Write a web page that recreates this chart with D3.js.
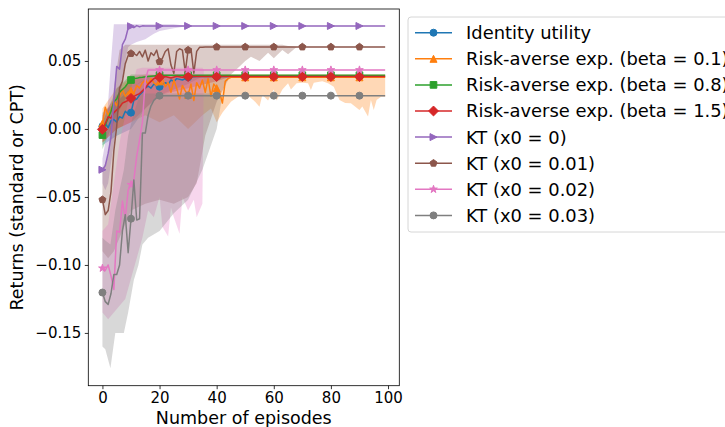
<!DOCTYPE html>
<html><head><meta charset="utf-8">
<script src="https://cdn.jsdelivr.net/npm/d3@7"></script>
<style>body{margin:0;background:#fff}svg{display:block;font-family:"DejaVu Sans",sans-serif}</style>
</head><body><div id="chart"></div>
<script>
// ---------------- data ----------------
const seriesNames = ["Identity utility","Risk-averse exp. (beta = 0.1)","Risk-averse exp. (beta = 0.8)","Risk-averse exp. (beta = 1.5)","KT (x0 = 0)","KT (x0 = 0.01)","KT (x0 = 0.02)","KT (x0 = 0.03)"];
const seriesColors = ["#1f77b4","#ff7f0e","#2ca02c","#d62728","#9467bd","#8c564b","#e377c2","#7f7f7f"];
const seriesMarkers = ["circle","triUp","square","diamond","triRight","pentagon","star","circle"];
const xTicks = [0,20,40,60,80,100];
const yTicks = [-0.15,-0.10,-0.05,0.00,0.05];

// mean returns, [episode, value]
const identityLine = [[0,0.002],[1,0.004],[2,0.001],[3,0.006],[4,0.007],[5,0.005],[6,0.009],[7,0.008],[8,0.013],[9,0.011],[10,0.012],[11,0.021],[12,0.022],[13,0.025],[14,0.027],[15,0.030],[16,0.0315],[17,0.030],[18,0.033],[19,0.032],[20,0.031],[21,0.033],[22,0.034],[23,0.033],[24,0.036],[25,0.035],[26,0.037],[28,0.036],[30,0.038],[33,0.0385],[40,0.0385],[50,0.0385],[60,0.0385],[70,0.0385],[80,0.0385],[90,0.0385],[99,0.0385]];
const beta01Line = [[0,0.004],[1,0.016],[2,0.010],[3,0.014],[4,0.021],[5,0.017],[6,0.024],[7,0.029],[8,0.024],[9,0.027],[10,0.028],[11,0.026],[12,0.032],[13,0.030],[14,0.034],[15,0.036],[16,0.033],[17,0.037],[18,0.034],[19,0.032],[20,0.035],[21,0.037],[22,0.031],[23,0.034],[24,0.027],[25,0.036],[26,0.030],[27,0.022],[28,0.032],[29,0.028],[30,0.025],[31,0.033],[32,0.021],[33,0.034],[34,0.030],[35,0.036],[36,0.027],[37,0.037],[38,0.024],[39,0.033],[40,0.030],[41,0.027],[42,0.019],[43,0.035],[44,0.037],[45,0.038],[50,0.038],[60,0.038],[70,0.038],[80,0.038],[90,0.038],[99,0.038]];
const beta08Line = [[0,-0.0045],[1,0.003],[2,0.008],[3,0.013],[4,0.020],[5,0.022],[6,0.027],[7,0.029],[8,0.031],[9,0.034],[10,0.036],[11,0.037],[12,0.0372],[13,0.0378],[14,0.038],[16,0.0385],[18,0.039],[20,0.0395],[30,0.0395],[40,0.0395],[50,0.0395],[60,0.0395],[70,0.0395],[80,0.0395],[90,0.0395],[99,0.0395]];
const beta15Line = [[0,-0.0003],[1,0.004],[2,0.009],[3,0.008],[4,0.012],[5,0.014],[6,0.016],[7,0.019],[8,0.020],[9,0.021],[10,0.0225],[11,0.024],[12,0.025],[13,0.026],[14,0.028],[15,0.030],[16,0.033],[17,0.035],[18,0.037],[19,0.0375],[20,0.038],[22,0.0385],[24,0.0375],[26,0.0388],[28,0.038],[30,0.0385],[40,0.0385],[50,0.0385],[60,0.0385],[70,0.0385],[80,0.0385],[90,0.0385],[99,0.0385]];
const kt0Line = [[0,-0.030],[1,-0.027],[2,-0.018],[3,-0.006],[4,0.021],[5,0.046],[6,0.044],[7,0.062],[8,0.066],[9,0.074],[10,0.0755],[11,0.0745],[12,0.076],[13,0.0752],[14,0.0758],[15,0.0757],[20,0.0757],[30,0.0757],[40,0.0757],[50,0.0757],[60,0.0757],[70,0.0757],[80,0.0757],[90,0.0757],[99,0.0757]];
const kt001Line = [[0,-0.052],[1,-0.063],[2,-0.060],[3,-0.046],[4,-0.016],[5,0.002],[6,0.030],[7,0.035],[8,0.048],[9,0.054],[10,0.0555],[11,0.0555],[12,0.054],[13,0.057],[14,0.053],[15,0.058],[16,0.050],[17,0.056],[18,0.054],[19,0.058],[20,0.0495],[21,0.052],[22,0.057],[23,0.059],[24,0.047],[25,0.041],[26,0.057],[27,0.059],[28,0.058],[29,0.042],[30,0.058],[31,0.059],[32,0.041],[33,0.057],[34,0.060],[35,0.060],[36,0.0603],[40,0.0603],[50,0.0603],[60,0.0603],[70,0.0603],[80,0.0603],[90,0.0603],[99,0.0603]];
const kt002Line = [[0,-0.1024],[1,-0.104],[2,-0.100],[3,-0.108],[4,-0.118],[5,-0.075],[6,-0.076],[7,-0.053],[8,-0.066],[9,-0.045],[10,-0.041],[11,-0.0375],[12,-0.020],[13,-0.008],[14,0.005],[15,0.036],[16,0.0434],[20,0.0434],[30,0.0434],[40,0.0434],[50,0.0434],[60,0.0434],[70,0.0434],[80,0.0434],[90,0.0434],[99,0.0434]];
const kt003Line = [[0,-0.1203],[1,-0.127],[2,-0.129],[3,-0.121],[4,-0.107],[5,-0.107],[6,-0.100],[7,-0.075],[8,-0.063],[9,-0.091],[10,-0.066],[11,-0.0375],[12,-0.067],[13,-0.066],[14,-0.003],[15,-0.003],[16,0.010],[17,0.017],[18,0.021],[19,0.023],[20,0.0245],[30,0.0245],[40,0.0245],[50,0.0245],[60,0.0245],[70,0.0245],[80,0.0245],[90,0.0245],[99,0.0245]];

// spread bands, [episode, low, high]
const identityBand = [[0,-0.012,0.012],[5,-0.005,0.020],[10,0.000,0.030],[15,0.015,0.037],[20,0.025,0.038],[30,0.033,0.039],[35,0.0385,0.0385]];
const beta01Band = [[0,-0.010,0.015],[5,0.000,0.030],[10,0.005,0.038],[15,0.010,0.040],[20,0.005,0.040],[25,0.010,0.040],[30,0.000,0.040],[35,0.010,0.040],[38,0.015,0.040],[40,0.005,0.040],[42,0.012,0.040],[45,0.020,0.040],[48,0.0245,0.040],[51,0.0245,0.040],[53,0.021,0.040],[55,0.0164,0.040],[56,0.025,0.040],[58,0.021,0.040],[60,0.029,0.040],[61,0.021,0.040],[63,0.029,0.040],[65,0.0336,0.040],[66,0.029,0.040],[68,0.0336,0.040],[70,0.034,0.040],[72,0.0336,0.040],[73,0.0287,0.040],[74,0.034,0.040],[77,0.035,0.040],[79,0.0336,0.040],[81,0.031,0.040],[83,0.0213,0.040],[85,0.019,0.040],[87,0.0189,0.040],[90,0.014,0.040],[91,0.0165,0.040],[93,0.0091,0.040],[94,0.0213,0.040],[95,0.014,0.040],[96,0.0213,0.040],[97.6,0.0237,0.040],[99,0.0237,0.040]];
const beta08Band = [[0,-0.015,0.005],[5,0.010,0.030],[10,0.030,0.040],[15,0.036,0.040],[20,0.0395,0.0395]];
const beta15Band = [[0,-0.010,0.010],[5,0.000,0.025],[10,0.005,0.035],[15,0.015,0.039],[20,0.025,0.040],[30,0.030,0.040],[40,0.035,0.039],[45,0.0385,0.0385]];
const kt0Band = [[0,-0.040,-0.022],[1,-0.045,-0.010],[2,-0.040,0.020],[3,-0.025,0.050],[4,-0.010,0.077],[5,0.005,0.077],[6,0.020,0.077],[7,0.035,0.077],[8,0.050,0.077],[9,0.060,0.077],[10,0.062,0.077],[12,0.064,0.077],[15,0.066,0.077],[18,0.070,0.077],[20,0.072,0.077],[25,0.074,0.077],[30,0.0757,0.0757]];
const kt001Band = [[0,-0.090,-0.030],[2,-0.095,-0.020],[4,-0.090,0.030],[6,-0.080,0.058],[8,-0.070,0.062],[10,-0.060,0.062],[15,-0.055,0.062],[20,-0.052,0.062],[25,-0.055,0.062],[30,-0.050,0.062],[33,-0.040,0.062],[36,-0.005,0.062],[40,0.020,0.062],[45,0.040,0.062],[48,0.046,0.062],[50,0.050,0.062],[52,0.053,0.062],[55,0.050,0.062],[58,0.056,0.062],[60,0.052,0.062],[63,0.058,0.062],[65,0.055,0.061],[68,0.0603,0.0603]];
const kt002Band = [[0,-0.135,-0.075],[2,-0.140,-0.070],[4,-0.135,-0.040],[6,-0.130,-0.010],[8,-0.125,0.010],[10,-0.110,0.030],[12,-0.095,0.044],[14,-0.080,0.045],[16,-0.060,0.045],[18,-0.065,0.045],[20,-0.050,0.045],[21,-0.072,0.045],[23,-0.079,0.045],[24,-0.058,0.045],[25,-0.065,0.045],[27,-0.077,0.045],[28,-0.050,0.045],[30,-0.060,0.045],[32,-0.052,0.045],[33,-0.065,0.045],[35,-0.055,0.045],[35.5,0.0434,0.0434]];
const kt003Band = [[0,-0.160,-0.080],[1,-0.162,-0.082],[2.8,-0.176,-0.085],[4.5,-0.150,-0.060],[7.5,-0.150,-0.030],[9,-0.135,-0.005],[11,-0.111,0.012],[12.6,-0.100,0.022],[14,-0.085,0.026],[16,-0.080,0.026],[20,-0.075,0.026],[25,-0.062,0.026],[30,-0.052,0.026],[35,-0.030,0.026],[40,0.000,0.026],[42,0.0245,0.0245]];

const lines = [identityLine,beta01Line,beta08Line,beta15Line,kt0Line,kt001Line,kt002Line,kt003Line];
const bands = [identityBand,beta01Band,beta08Band,beta15Band,kt0Band,kt001Band,kt002Band,kt003Band];

// ---------------- layout ----------------
const W = 725, H = 427;
const plot = {left: 88.3, right: 399.3, top: 9, bottom: 385.7};
const svg = d3.select("#chart").append("svg").attr("width", W).attr("height", H);

const x = d3.scaleLinear().domain([-4.95, 103.95]).range([plot.left, plot.right]);
const y = d3.scaleLinear().domain([-0.1888, 0.0882]).range([plot.bottom, plot.top]);

svg.append("defs").append("clipPath").attr("id","clip").append("rect")
  .attr("x", plot.left).attr("y", plot.top).attr("width", plot.right-plot.left).attr("height", plot.bottom-plot.top);

const g = svg.append("g").attr("clip-path","url(#clip)");

const area = d3.area().x(d => x(d[0])).y0(d => y(d[1])).y1(d => y(d[2]));
const line = d3.line().x(d => x(d[0])).y(d => y(d[1]));

bands.forEach((b, i) => {
  g.append("path").attr("d", area(b)).attr("fill", seriesColors[i]).attr("fill-opacity", 0.3).attr("stroke","none");
});

const S = 7;
function markerPath(type) {
  const h = S/2;
  const p = d3.path();
  if (type === "circle") { p.arc(0,0,h,0,2*Math.PI); }
  else if (type === "square") { p.rect(-h*0.95,-h*0.95,S*0.95,S*0.95); }
  else if (type === "triUp") { p.moveTo(0,-h); p.lineTo(-h,h); p.lineTo(h,h); p.closePath(); }
  else if (type === "triRight") { p.moveTo(h,0); p.lineTo(-h,-h); p.lineTo(-h,h); p.closePath(); }
  else if (type === "diamond") { const r = h*1.414; p.moveTo(0,-r); p.lineTo(r,0); p.lineTo(0,r); p.lineTo(-r,0); p.closePath(); }
  else if (type === "pentagon") { for (let k=0;k<5;k++){const a=-Math.PI/2+k*2*Math.PI/5; const px=h*1.05*Math.cos(a), py=h*1.05*Math.sin(a); k?p.lineTo(px,py):p.moveTo(px,py);} p.closePath(); }
  else if (type === "star") { for (let k=0;k<10;k++){const a=-Math.PI/2+k*Math.PI/5; const r=k%2?h*1.15*0.382:h*1.15; const px=r*Math.cos(a), py=r*Math.sin(a); k?p.lineTo(px,py):p.moveTo(px,py);} p.closePath(); }
  return p.toString();
}

lines.forEach((l, i) => {
  g.append("path").attr("d", line(l)).attr("fill","none").attr("stroke", seriesColors[i]).attr("stroke-width",1.5).attr("stroke-linejoin","round");
  g.selectAll(null).data(l.filter(d => d[0] % 10 === 0 && d[0] < 100)).enter().append("path")
    .attr("d", markerPath(seriesMarkers[i]))
    .attr("transform", d => `translate(${x(d[0])},${y(d[1])})`)
    .attr("fill", seriesColors[i]).attr("stroke", seriesColors[i]).attr("stroke-width",1);
});

// ---------------- axes ----------------
const fmt = v => d3.format(".2f")(v).replace("-", "\u2212");
const xAxis = svg.append("g").attr("transform", `translate(0,${plot.bottom})`)
  .call(d3.axisBottom(x).tickValues(xTicks).tickSize(3.5).tickPadding(3.5).tickFormat(d3.format("d")));
const yAxis = svg.append("g").attr("transform", `translate(${plot.left},0)`)
  .call(d3.axisLeft(y).tickValues(yTicks).tickSize(3.5).tickPadding(3.5).tickFormat(fmt));
[xAxis, yAxis].forEach(a => {
  a.select(".domain").remove();
  a.selectAll(".tick line").attr("stroke","#000").attr("stroke-width",0.8);
  a.selectAll(".tick text").attr("font-size","15px").attr("fill","#000").attr("font-family","DejaVu Sans");
});
svg.append("rect").attr("x",plot.left).attr("y",plot.top).attr("width",plot.right-plot.left).attr("height",plot.bottom-plot.top)
  .attr("fill","none").attr("stroke","#000").attr("stroke-width",0.8);

svg.append("text").attr("x",(plot.left+plot.right)/2).attr("y",424).attr("text-anchor","middle")
  .attr("font-size","17.5px").text("Number of episodes");
svg.append("text").attr("transform",`translate(23,${(plot.top+plot.bottom)/2}) rotate(-90)`).attr("text-anchor","middle")
  .attr("font-size","17.5px").text("Returns (standard or CPT)");

// ---------------- legend ----------------
const lg = svg.append("g");
lg.append("rect").attr("x",408).attr("y",17).attr("width",340).attr("height",215).attr("rx",3)
  .attr("fill","#fff").attr("fill-opacity",0.8).attr("stroke","#ccc").attr("stroke-width",0.8);
seriesNames.forEach((name, i) => {
  const cy = 32.7 + i*26.1;
  lg.append("line").attr("x1",415).attr("x2",452).attr("y1",cy).attr("y2",cy).attr("stroke",seriesColors[i]).attr("stroke-width",1.5);
  lg.append("path").attr("d", markerPath(seriesMarkers[i])).attr("transform",`translate(433.5,${cy})`)
    .attr("fill",seriesColors[i]).attr("stroke",seriesColors[i]).attr("stroke-width",1);
  lg.append("text").attr("x",466).attr("y",cy).attr("dy","0.36em").attr("font-size","17.9px").text(name);
});
</script></body></html>
